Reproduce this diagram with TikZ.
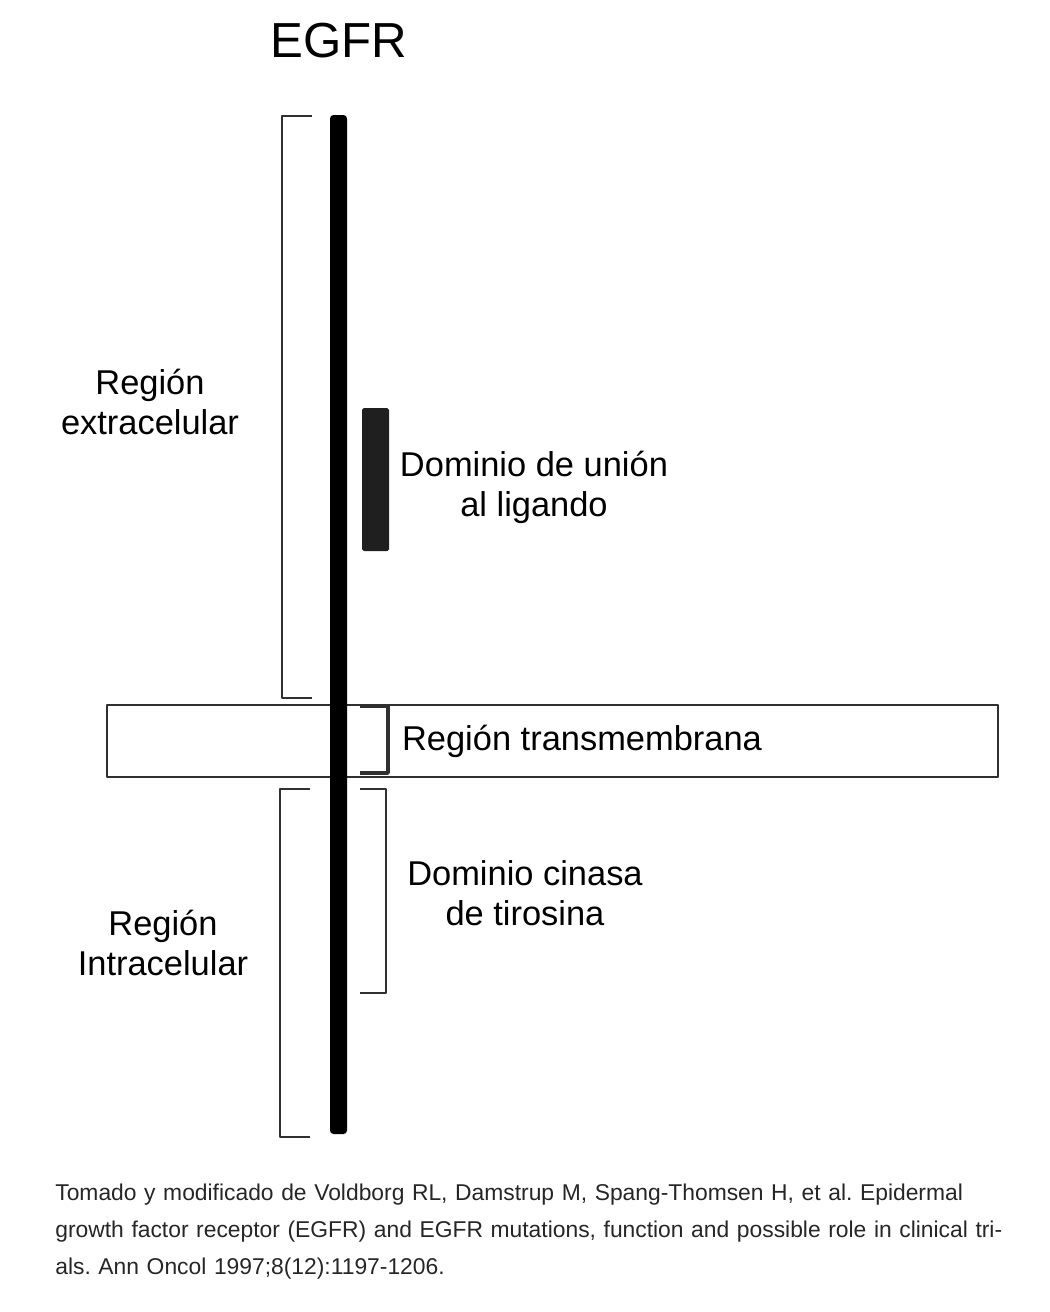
\documentclass[tikz,border=0pt]{standalone}
\usepackage{fontspec}
\setmainfont{Liberation Sans}
\frenchspacing
\hyphenpenalty=10000
\definecolor{gray8}{HTML}{303030}
\tikzset{
  regtext/.style={align=center, inner sep=0pt, font=\fontsize{19.6}{22.7}\selectfont},
  brk/.style={gray8, line width=1.6pt, line join=round},
}

\begin{document}
\begin{tikzpicture}[x=0.02cm,y=-0.02cm]
\useasboundingbox (0,0) rectangle (1050,1312);
\node [inner sep=0pt, font=\fontsize{28}{30}\selectfont] (title) at (339,41) {EGFR};
% membrana
\draw [brk] (107,705) rectangle (998,777);
% receptor y dominio de union
\fill [black, rounded corners=2] (330,115) rectangle (347,1134);
\fill [black!88, rounded corners=1] (362,408) rectangle (389,551);
% llaves
\draw [brk] (312,116) -- (282,116) -- (282,698) -- (312,698);
\draw [brk] (310,789) -- (280,789) -- (280,1137) -- (310,1137);
\draw [brk, line width=2pt] (360,706) -- (388,706) -- (388,773) -- (360,773);
\draw [brk] (360,789) -- (386,789) -- (386,993) -- (360,993);
% textos
\node [regtext] (extra) at (150,402) {Región\\extracelular};
\node [regtext] (ligando) at (534,487) {Dominio de unión\\al ligando};
\node [regtext] (trans) at (582,741) {Región transmembrana};
\node [regtext] (cinasa) at (525,893) {Dominio cinasa\\de tirosina};
\node [regtext] (intra) at (163,943) {Región\\Intracelular};
\node [anchor=north west, inner sep=0pt, text width=19.06cm,
  text=black!85, font=\fontsize{13}{21}\selectfont] (fuente) at (55,1184)
  {\rightskip=0pt\relax Tomado y modificado de Voldborg RL, Damstrup M, Spang-Thomsen H, et al. Epidermal\linebreak
   growth factor receptor (EGFR) and EGFR mutations, function and possible role in clinical tri-\linebreak
   als. Ann Oncol 1997;8(12):1197-1206.};
\end{tikzpicture}
\end{document}
